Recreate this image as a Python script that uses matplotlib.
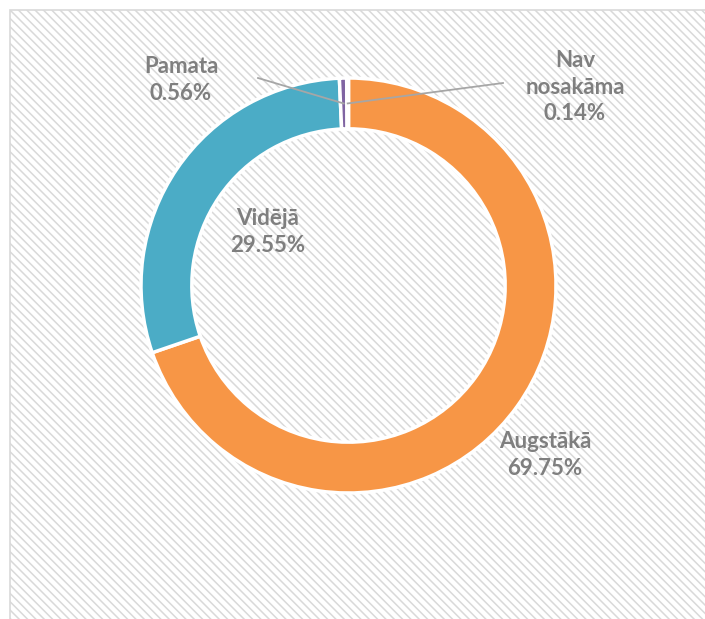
import numpy as np
import matplotlib
matplotlib.use("Agg")
import matplotlib.pyplot as plt
from matplotlib.patches import Rectangle

# data
labels = ["Augstākā", "Vidējā", "Pamata", "Nav\nnosakāma"]
shares = [69.75, 29.55, 0.56, 0.14]
colors = ["#F79646", "#4BACC6", "#8064A2", "#9BBB59"]

W, H = 705, 619
CX, CY, R = 348.5, 285.5, 207.5   # pie centre / radius in pixels
RING = 0.245


def px(x, y):
    # pixel position (from top-left) -> data coords of the pie axes
    return (x - CX) / R, (CY - y) / R


plt.rcParams["hatch.linewidth"] = 1.1
plt.rcParams["hatch.color"] = "#c4c4c4"

fig = plt.figure(figsize=(W / 100, H / 100), dpi=100)
ax = fig.add_axes([0, 0, 1, 1])

# hatched chart area with light frame
x0, y0 = px(10, 10)
x1, y1 = px(W + 5, H + 5)
ax.add_patch(Rectangle((x0, y1), x1 - x0, y0 - y1, facecolor="white",
                       edgecolor="#d9d9d9", hatch="\\\\\\\\", lw=1.2, zorder=0))

wedges, _ = ax.pie(shares, colors=colors, startangle=90, counterclock=False,
                   radius=1.0,
                   wedgeprops=dict(width=RING, edgecolor="white", linewidth=2.5))
for w in wedges:
    w.set_zorder(2)

ax.set_xlim(-CX / R, (W - CX) / R)
ax.set_ylim((CY - H) / R, CY / R)
ax.set_aspect("auto")
ax.axis("off")

# data labels
lab_pos = [(545, 455), (268, 232), (181, 80), (575, 87)]
font = dict(family="Lato", weight="bold", size=16, color="#7f7f7f",
            ha="center", va="center", linespacing=1.3)
for name, val, (lx, ly) in zip(labels, shares, lab_pos):
    tx, ty = px(lx, ly)
    t = ax.text(tx, ty, f"{name}\n{val:.2f}%", zorder=5, **font)
    t.set_bbox(dict(facecolor="none", edgecolor="none", pad=0))

# leader lines for the tiny slices
rmid = 1 - RING / 2
lead_start = {2: (258, 78), 3: (503, 83)}
for i, (sx, sy) in lead_start.items():
    w = wedges[i]
    ang = np.deg2rad((w.theta1 + w.theta2) / 2)
    ex, ey = rmid * np.cos(ang), rmid * np.sin(ang)
    bx, by = px(sx, sy)
    ax.plot([bx, ex], [by, ey], color="#a6a6a6", lw=1.3, zorder=4)

fig.savefig("out.png", dpi=100)
